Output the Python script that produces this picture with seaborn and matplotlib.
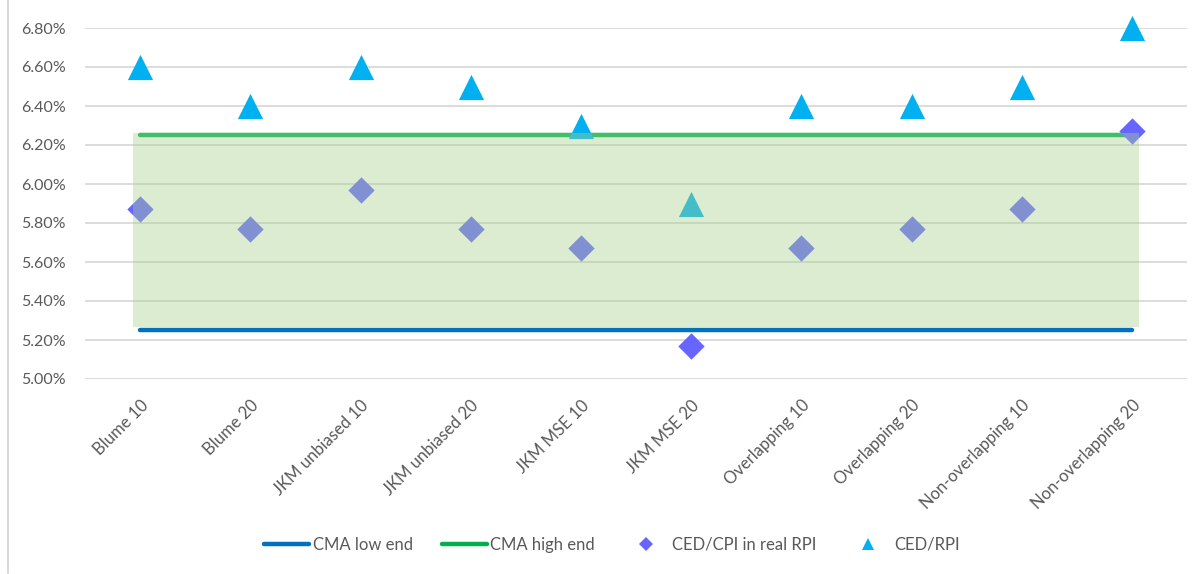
import numpy as np
import pandas as pd
import matplotlib
matplotlib.use("Agg")
import matplotlib.pyplot as plt
from matplotlib.lines import Line2D
from matplotlib.ticker import FuncFormatter
import seaborn as sns

# Estimators and their results (percent)
categories = ["Blume 10", "Blume 20", "JKM unbiased 10", "JKM unbiased 20",
              "JKM MSE 10", "JKM MSE 20", "Overlapping 10", "Overlapping 20",
              "Non-overlapping 10", "Non-overlapping 20"]
ced_cpi_real_rpi = [5.87, 5.77, 5.97, 5.77, 5.67, 5.17, 5.67, 5.77, 5.87, 6.27]
ced_rpi = [6.60, 6.40, 6.60, 6.50, 6.30, 5.90, 6.40, 6.40, 6.50, 6.80]
cma_low_end = 5.25
cma_high_end = 6.25
cma_band = (5.265, 6.26)
y_ticks = [5.00, 5.20, 5.40, 5.60, 5.80, 6.00, 6.20, 6.40, 6.60, 6.80]

sns.set_theme(style="white")
plt.rcParams["font.family"] = ["Lato", "DejaVu Sans"]

C_LOW = "#0070C0"
C_HIGH = "#00B050"
C_DIAMOND = "#6666FF"
C_TRI = "#00B0F0"
C_BAND = "#A9D18E"
C_TEXT = "#595959"
C_GRID = "#D9D9D9"

pos = np.arange(len(categories))
df = pd.DataFrame({
    "pos": pos,
    "category": categories,
    "ced_cpi": ced_cpi_real_rpi,
    "ced_rpi": ced_rpi,
    "low": [cma_low_end] * len(categories),
    "high": [cma_high_end] * len(categories),
})

fig = plt.figure(figsize=(12.02, 5.74), dpi=100)
ax = fig.add_axes([85 / 1202, 1 - 379 / 574, (1187 - 85) / 1202, (379 - 28) / 574])

# CMA range lines
sns.lineplot(data=df, x="pos", y="low", ax=ax, color=C_LOW, linewidth=3.2,
             solid_capstyle="round", zorder=2, legend=False)
sns.lineplot(data=df, x="pos", y="high", ax=ax, color=C_HIGH, linewidth=3.2,
             solid_capstyle="round", zorder=2, legend=False)

# Estimates
sns.scatterplot(data=df, x="pos", y="ced_cpi", ax=ax, marker="D", s=180,
                color=C_DIAMOND, linewidth=0, zorder=3, clip_on=False, legend=False)
sns.scatterplot(data=df, x="pos", y="ced_rpi", ax=ax, marker="^", s=330,
                color=C_TRI, linewidth=0, zorder=3, clip_on=False, legend=False)

# Shaded CMA band
ax.fill_between([pos[0] - 0.065, pos[-1] + 0.065], cma_band[0], cma_band[1],
                color=C_BAND, alpha=0.4, linewidth=0, zorder=4)

ax.set_xlim(-0.5, len(categories) - 0.5)
ax.set_ylim(y_ticks[0], y_ticks[-1])
ax.set_yticks(y_ticks)
ax.yaxis.set_major_formatter(FuncFormatter(lambda v, _: f"{v:.2f}%"))
ax.set_xticks(pos)
ax.set_xticklabels(categories, rotation=45, ha="right", rotation_mode="anchor")
ax.set_xlabel("")
ax.set_ylabel("")
ax.grid(axis="y", color=C_GRID, linewidth=1.3, zorder=0)
ax.set_axisbelow(True)
for s in ax.spines.values():
    s.set_visible(False)
ax.tick_params(axis="both", length=0, labelsize=11.5, colors=C_TEXT)
ax.tick_params(axis="x", labelsize=12)
ax.tick_params(axis="y", pad=14)
ax.tick_params(axis="x", pad=13)

handles = [
    Line2D([], [], color=C_LOW, linewidth=3.2, solid_capstyle="round"),
    Line2D([], [], color=C_HIGH, linewidth=3.2, solid_capstyle="round"),
    Line2D([], [], color=C_DIAMOND, marker="D", markersize=7, linestyle="none", markeredgewidth=0),
    Line2D([], [], color=C_TRI, marker="^", markersize=9, linestyle="none", markeredgewidth=0),
]
labels = ["CMA low end", "CMA high end", "CED/CPI in real RPI", "CED/RPI"]
leg = fig.legend(handles, labels, loc="center", bbox_to_anchor=(612 / 1202, 1 - 545 / 574),
                 ncol=4, frameon=False, fontsize=12, handlelength=2.7,
                 handletextpad=0.2, columnspacing=1.75)
for t in leg.get_texts():
    t.set_color(C_TEXT)

# Left border of the chart area
fig.add_artist(Line2D([7.5 / 1202, 7.5 / 1202], [0.002, 1.0], color=C_GRID,
                      linewidth=1.5, transform=fig.transFigure))

fig.savefig("out.png", dpi=100, facecolor="white")
